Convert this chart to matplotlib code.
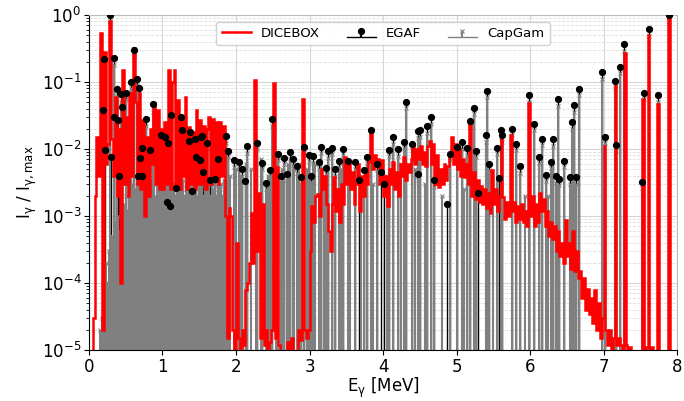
import numpy as np
import matplotlib
matplotlib.use("Agg")
import matplotlib.pyplot as plt
from matplotlib.ticker import LogLocator, NullFormatter

plt.rcParams['font.family'] = ['DejaVu Sans']
plt.rcParams['mathtext.default'] = 'regular'

# ---------------- DICEBOX: binned spectrum, 0.025 MeV bins from 0 to 8 MeV ----------------
dicebox_bin_width = 0.025
dicebox_I = [
    0, 0, 3e-5, 2e-3, 1.5e-2, 4e-3, 0.54, 2e-5, 0.28, 6e-3,            # 0.00-0.25
    1.2e-2, 0.8, 1.4e-2, 4e-3, 0.06, 2e-3, 0.02, 1e-4, 0.15, 3e-3,     # 0.25-0.50
    0.03, 2e-3, 0.068, 4e-3, 0.32, 0.05, 3e-3, 0.068, 2.5e-3, 0.027,   # 0.50-0.75
    1e-3, 0.015, 2e-3, 0.02, 0.006, 0.048, 3e-3, 0.038, 2.5e-3, 0.02,  # 0.75-1.00
    2.5e-3, 0.025, 3e-3, 0.15, 2.5e-3, 0.1, 0.15, 3e-3, 0.054, 2.5e-3, # 1.00-1.25
    0.03, 4e-3, 0.06, 2.5e-3, 0.021, 3e-3, 0.018, 2.5e-3, 0.038, 3e-3, # 1.25-1.50
    0.027, 3e-3, 0.022, 2.5e-3, 0.02, 0.03, 3e-3, 0.028, 3.5e-3, 0.025,  # 1.50-1.75
    3e-3, 0.025, 4e-3, 0.022, 1e-3, 1.5e-5, 1.3e-3, 1e-3, 2e-5, 1e-5,   # 1.75-2.00
    4e-4, 1.5e-5, 1e-5, 2e-5, 1.2e-5, 7.8e-5, 1e-4, 2e-4, 1.1e-3, 2e-4,  # 2.00-2.25
    0.107, 3e-4, 2.2e-3, 1.5e-5, 1.5e-3, 1.2e-5, 2e-5, 1e-5, 1.3e-5, 2e-5,  # 2.25-2.50
    0.096, 1.5e-5, 5.4e-3, 1.2e-5, 0, 0, 0, 0, 1.3e-5, 0,               # 2.50-2.75
    1.5e-5, 0, 0, 0, 2e-5, 1.4e-5, 0.055, 2e-5, 1.5e-5, 2e-5,           # 2.75-3.00
    3e-4, 1.4e-3, 8e-4, 2e-3, 2.1e-3, 1e-3, 5e-3, 2.5e-3, 4e-3, 1.5e-3,  # 3.00-3.25
    6e-4, 3e-4, 1.5e-3, 3.8e-3, 1.2e-3, 2.5e-3, 8e-4, 3e-3, 1.5e-3, 7.5e-3,  # 3.25-3.50
    3e-3, 6e-3, 2.5e-3, 4.5e-3, 1.5e-3, 3e-3, 6e-3, 1.2e-3, 4e-3, 2e-3,  # 3.50-3.75
    5e-3, 3e-3, 6.5e-3, 0.019, 5e-3, 8e-3, 5.5e-3, 7e-3, 3e-3, 6.8e-3,  # 3.75-4.00
    2e-3, 4e-3, 1.4e-3, 5e-3, 3e-3, 6.5e-3, 2.5e-3, 4.5e-3, 2e-3, 6e-3,  # 4.00-4.25
    4e-3, 7.5e-3, 3.5e-3, 6e-3, 4.5e-3, 7e-3, 0.012, 6e-3, 0.01, 7e-3,  # 4.25-4.50
    0.011, 6e-3, 9e-3, 5.5e-3, 0.011, 0.013, 6e-3, 0.012, 3e-3, 8e-3,   # 4.50-4.75
    2.7e-3, 5e-3, 3e-3, 6e-3, 3.5e-3, 5.5e-3, 8e-3, 0.015, 6e-3, 0.012,  # 4.75-5.00
    5e-3, 0.01, 4e-3, 7e-3, 3.8e-3, 6e-3, 3e-3, 0.024, 2e-3, 4.5e-3,    # 5.00-5.25
    1.8e-3, 3.5e-3, 1.6e-3, 2.8e-3, 1.5e-3, 2.5e-3, 1.3e-3, 2.2e-3, 1.1e-3, 4.8e-3,  # 5.25-5.50
    1.5e-3, 2.5e-3, 1.2e-3, 2e-3, 0.015, 1.9e-3, 9e-4, 1.6e-3, 1e-3, 0.016,  # 5.50-5.75
    1.2e-3, 1.6e-3, 8e-4, 1.4e-3, 9e-4, 1.5e-3, 8e-4, 1.2e-3, 7e-4, 0.048,  # 5.75-6.00
    1e-3, 2e-3, 7e-4, 1.5e-3, 8e-4, 2.2e-3, 1.2e-3, 1.8e-3, 7e-4, 1.2e-3,  # 6.00-6.25
    5e-4, 8e-4, 4.5e-4, 7e-4, 3e-4, 6e-4, 2.5e-4, 4e-4, 2e-4, 8.6e-4,   # 6.25-6.50
    2.5e-4, 4e-4, 1.6e-4, 6e-4, 1.5e-4, 3e-4, 1.2e-4, 1.5e-4, 6e-5, 1.2e-4,  # 6.50-6.75
    4e-5, 8e-5, 3.5e-5, 6e-5, 2.5e-5, 7.8e-5, 2e-5, 5e-5, 1.5e-5, 3e-5,  # 6.75-7.00
    0.011, 2e-5, 1.2e-5, 2e-5, 1e-5, 1.5e-5, 0.09, 1.2e-5, 1.5e-5, 1.2e-5,  # 7.00-7.25
    1e-5, 0.27, 1.2e-5, 1e-5, 1.1e-5, 0, 0, 0, 0, 0,                    # 7.25-7.50
    0, 0.055, 0, 1.1e-5, 0.5, 0, 1.1e-5, 0, 0, 0.047,                   # 7.50-7.75
    0, 0, 0, 0, 0, 1.0, 0, 0, 0, 0,                                     # 7.75-8.00
]

# ---------------- EGAF ----------------
egaf_E = [0.195, 0.20, 0.22, 0.28, 0.30, 0.34, 0.345, 0.385, 0.39, 0.41,
          0.44, 0.445, 0.50, 0.57, 0.61, 0.65, 0.66, 0.68, 0.69, 0.72,
          0.725, 0.78, 0.83, 0.875, 0.975, 1.03, 1.06, 1.07, 1.10, 1.12,
          1.19, 1.25, 1.26, 1.36, 1.37, 1.40, 1.44, 1.46, 1.51, 1.52,
          1.54, 1.55, 1.60, 1.65, 1.72, 1.76, 1.86, 1.895, 1.97, 2.04,
          2.08, 2.12, 2.15, 2.29, 2.36, 2.41, 2.46, 2.49, 2.57, 2.61,
          2.65, 2.69, 2.73, 2.77, 2.83, 2.89, 2.93, 2.99, 3.02, 3.05,
          3.13, 3.15, 3.23, 3.25, 3.31, 3.35, 3.40, 3.46, 3.52, 3.62,
          3.68, 3.74, 3.78, 3.84, 3.92, 3.97, 4.02, 4.08, 4.13, 4.20,
          4.28, 4.31, 4.40, 4.47, 4.48, 4.51, 4.60, 4.65, 4.70, 4.87,
          4.91, 5.00, 5.07, 5.14, 5.18, 5.24, 5.27, 5.29, 5.40, 5.41,
          5.44, 5.55, 5.58, 5.60, 5.62, 5.75, 5.81, 5.86, 5.99, 6.05,
          6.12, 6.16, 6.22, 6.29, 6.31, 6.35, 6.38, 6.40, 6.46, 6.54,
          6.57, 6.60, 6.62, 6.66, 6.98, 7.02, 7.155, 7.165, 7.23, 7.28,
          7.53, 7.55, 7.62, 7.74, 7.89]
egaf_I = [0.038, 0.22, 0.0096, 1.0, 0.0077, 0.23, 0.030, 0.078, 0.027, 0.0039,
          0.066, 0.042, 0.068, 0.10, 0.30, 0.11, 0.004, 0.08, 0.0074, 0.0104,
          0.004, 0.028, 0.0095, 0.047, 0.016, 0.015, 0.0016, 0.0125, 0.0014, 0.032,
          0.0026, 0.030, 0.019, 0.013, 0.018, 0.0024, 0.014, 0.0077, 0.0068, 0.015,
          0.0157, 0.0046, 0.0125, 0.0034, 0.0036, 0.0072, 0.0157, 0.0092, 0.0068, 0.0065,
          0.0051, 0.0033, 0.011, 0.0125, 0.0062, 0.0031, 0.0049, 0.028, 0.0085, 0.004,
          0.0074, 0.0042, 0.009, 0.0071, 0.0055, 0.0038, 0.0108, 0.0082, 0.004, 0.0078,
          0.0063, 0.0108, 0.0052, 0.0092, 0.0104, 0.005, 0.0066, 0.010, 0.0066, 0.0063,
          0.0035, 0.0048, 0.0077, 0.0192, 0.006, 0.0045, 0.003, 0.0097, 0.015, 0.0099,
          0.0128, 0.051, 0.012, 0.0043, 0.0185, 0.019, 0.022, 0.030, 0.0034, 0.0015,
          0.0085, 0.0108, 0.0127, 0.0103, 0.026, 0.041, 0.0094, 0.0022, 0.016, 0.074,
          0.006, 0.0105, 0.0037, 0.019, 0.016, 0.020, 0.0119, 0.0055, 0.063, 0.024,
          0.0077, 0.0142, 0.0041, 0.0065, 0.014, 0.0039, 0.055, 0.0036, 0.0066, 0.0038,
          0.025, 0.045, 0.0038, 0.079, 0.139, 0.0153, 0.103, 0.0116, 0.167, 0.365,
          0.0032, 0.069, 0.61, 0.063, 1.0]

# ---------------- CapGam: strong lines ----------------
capgam_E = [0.20, 0.28, 0.34, 0.385, 0.44, 0.50, 0.57, 0.61, 0.65, 0.68,
            0.72, 0.78, 0.83, 0.875, 0.975, 1.03, 1.07, 1.12, 1.25, 1.26,
            1.36, 1.37, 1.44, 1.46, 1.52, 1.54, 1.60, 1.77, 1.86, 1.895,
            1.97, 2.04, 2.08, 2.15, 2.29, 2.36, 2.41, 2.46, 2.49, 2.57,
            2.61, 2.65, 2.69, 2.73, 2.77, 2.83, 2.89, 2.93, 2.99, 3.02,
            3.05, 3.13, 3.15, 3.23, 3.25, 3.31, 3.35, 3.40, 3.46, 3.52,
            3.62, 3.74, 3.78, 3.84, 3.92, 4.08, 4.13, 4.20, 4.28, 4.31,
            4.40, 4.47, 4.48, 4.51, 4.60, 4.65, 4.70, 4.91, 5.00, 5.07,
            5.14, 5.18, 5.24, 5.27, 5.40, 5.41, 5.44, 5.55, 5.60, 5.62,
            5.75, 5.81, 5.86, 5.99, 6.05, 6.12, 6.16, 6.22, 6.29, 6.31,
            6.35, 6.38, 6.40, 6.46, 6.54, 6.57, 6.60, 6.62, 6.66, 6.98,
            7.02, 7.155, 7.165, 7.23, 7.28, 7.53, 7.55, 7.62, 7.74, 7.89]
capgam_I = [0.17, 0.8, 0.18, 0.062, 0.05, 0.055, 0.08, 0.24, 0.09, 0.065,
            0.008, 0.022, 0.0075, 0.036, 0.013, 0.012, 0.010, 0.026, 0.024, 0.015,
            0.0105, 0.014, 0.011, 0.006, 0.012, 0.0125, 0.010, 0.0057, 0.0125, 0.0075,
            0.0054, 0.0052, 0.004, 0.0088, 0.010, 0.005, 0.0025, 0.0039, 0.022, 0.0068,
            0.0032, 0.0059, 0.0034, 0.0072, 0.0057, 0.0044, 0.003, 0.0086, 0.0066, 0.0032,
            0.0062, 0.005, 0.0086, 0.0042, 0.0074, 0.0083, 0.004, 0.0053, 0.008, 0.0053,
            0.005, 0.0038, 0.0062, 0.0154, 0.0048, 0.0078, 0.012, 0.0079, 0.0102, 0.041,
            0.0096, 0.0034, 0.0148, 0.015, 0.0176, 0.024, 0.0027, 0.0068, 0.0086, 0.010,
            0.0082, 0.021, 0.033, 0.0075, 0.0128, 0.059, 0.0048, 0.0084, 0.015, 0.0128,
            0.016, 0.0095, 0.0044, 0.05, 0.019, 0.0062, 0.0114, 0.0033, 0.0052, 0.0112,
            0.0031, 0.044, 0.0029, 0.0053, 0.003, 0.02, 0.036, 0.003, 0.063, 0.11,
            0.0122, 0.082, 0.0093, 0.134, 0.29, 0.0026, 0.055, 0.49, 0.05, 0.8]

# ---------------- CapGam: weak lines ----------------
capgam_weak_E = [0.155, 0.175, 0.19, 0.215, 0.235, 0.255, 0.27, 0.295, 0.31, 0.33,
                 0.355, 0.37, 0.39, 0.415, 0.43, 0.455, 0.475, 0.49,
                 0.51, 0.53, 0.545, 0.565, 0.585, 0.60, 0.62, 0.64, 0.66, 0.675,
                 0.695, 0.715, 0.735, 0.75, 0.765, 0.785, 0.805, 0.82, 0.84, 0.86,
                 0.885, 0.90, 0.92, 0.94, 0.955, 0.985,
                 1.005, 1.02, 1.045, 1.06, 1.085, 1.10, 1.12, 1.14, 1.16, 1.18,
                 1.20, 1.22, 1.24, 1.265, 1.28, 1.30, 1.32, 1.34, 1.355, 1.38,
                 1.40, 1.42, 1.455, 1.475, 1.495, 1.52, 1.535, 1.56, 1.58, 1.61,
                 1.63, 1.655, 1.675, 1.695, 1.715, 1.74, 1.76, 1.785, 1.80, 1.82,
                 1.84, 1.87,
                 1.92, 2.00, 2.06, 2.13, 2.21, 2.27, 2.34, 2.44, 2.54, 2.63,
                 2.71, 2.79, 2.86, 2.96, 3.07,
                 3.20, 3.43, 3.55, 3.70, 3.87, 4.05, 4.25, 4.43, 4.57, 4.80,
                 5.10, 5.50, 5.93, 6.25]
capgam_weak_I = [2e-5, 3e-5, 1e-4, 5e-5, 2e-4, 1e-4, 3e-4, 2e-4, 5e-4, 3e-4,
                 8e-4, 4e-4, 1e-3, 6e-4, 1.2e-3, 8e-4, 1.5e-3, 1e-3,
                 2e-3, 1.2e-3, 2.5e-3, 1.5e-3, 3e-3, 1.8e-3, 2.5e-3, 1.5e-3, 3e-3, 2e-3,
                 2.8e-3, 1.8e-3, 3e-3, 2e-3, 3.5e-3, 2.2e-3, 3e-3, 2e-3, 3.5e-3, 2.5e-3,
                 3e-3, 2e-3, 3.5e-3, 2.5e-3, 3e-3, 2.2e-3,
                 3e-3, 2e-3, 3.5e-3, 2.5e-3, 3e-3, 2e-3, 3.5e-3, 2.5e-3, 3e-3, 2e-3,
                 3.5e-3, 2.2e-3, 3e-3, 2.5e-3, 3.5e-3, 2e-3, 3e-3, 2.5e-3, 3.5e-3, 2e-3,
                 3e-3, 2.5e-3, 3.5e-3, 2e-3, 3e-3, 2.5e-3, 3.5e-3, 2e-3, 3e-3, 2.5e-3,
                 3.5e-3, 2e-3, 3e-3, 2.5e-3, 3e-3, 2e-3, 3e-3, 2.5e-3, 3e-3, 2e-3,
                 3.5e-3, 3e-3,
                 4e-3, 5e-3, 4e-3, 6e-3, 5e-3, 6e-3, 7e-3, 4e-3, 4e-3, 5e-3,
                 6e-3, 5e-3, 6e-3, 5e-3, 6e-3,
                 3e-3, 5e-3, 4e-3, 3e-3, 3e-3, 4e-3, 6e-3, 5e-3, 3e-3, 2e-3,
                 2.5e-3, 2e-3, 2e-3, 2e-3]

# ---------------- plotting ----------------
fig = plt.figure(figsize=(6.84, 4.01), dpi=100)
ax = fig.add_axes([0.1301, 0.1272, 0.8597, 0.8354])
ax.set_yscale('log')

floor = 1e-8
edges = np.arange(len(dicebox_I) + 1) * dicebox_bin_width
vals = np.maximum(np.array(dicebox_I, dtype=float), floor)
ax.stairs(vals, edges, color='red', lw=1.8, baseline=None, zorder=2.5, label='DICEBOX')

eg = ax.stem(egaf_E, egaf_I, linefmt='k-', markerfmt='ko', basefmt='k-',
             bottom=floor, label='EGAF')
eg.markerline.set_markersize(4.2)
eg.markerline.set_zorder(3)
eg.stemlines.set_linewidth(1.0)
eg.stemlines.set_zorder(1.5)
eg.baseline.set_linewidth(1.0)

cg_E = list(capgam_E) + list(capgam_weak_E)
cg_I = list(capgam_I) + list(capgam_weak_I)
cg = ax.stem(cg_E, cg_I, linefmt='-', markerfmt='x', basefmt='-',
             bottom=floor, label='CapGam')
cg.stemlines.set_color('gray')
cg.stemlines.set_linewidth(1.5)
cg.stemlines.set_zorder(2)
cg.markerline.set_color('gray')
cg.markerline.set_markersize(3.5)
cg.markerline.set_markeredgewidth(0.8)
cg.markerline.set_zorder(2.1)
cg.baseline.set_color('gray')
cg.baseline.set_linewidth(1.0)

ax.set_xlim(0, 8)
ax.set_ylim(1e-5, 1)
ax.yaxis.set_major_locator(LogLocator(base=10, numticks=10))
ax.yaxis.set_minor_locator(LogLocator(base=10, subs=np.arange(2, 10), numticks=20))
ax.yaxis.set_minor_formatter(NullFormatter())

ax.grid(which='major', color='#d5d5d5', lw=0.8, zorder=0)
ax.grid(which='minor', axis='y', color='#dddddd', lw=0.6, ls='--', zorder=0)
ax.set_axisbelow(True)

for s in ['top', 'right']:
    ax.spines[s].set_color('#bbbbbb')
for s in ['left', 'bottom']:
    ax.spines[s].set_color('black')

ax.tick_params(axis='both', which='major', labelsize=12, length=3.5, width=0.8, pad=2)
ax.tick_params(axis='y', which='minor', length=2, width=0.6)

ax.set_xlabel(r'$E_\gamma$ [MeV]', fontsize=12, labelpad=0)
ax.set_ylabel(r'$I_\gamma$ / $I_{\gamma,max}$', fontsize=12, labelpad=2)

leg = ax.legend(loc='upper center', ncol=3, fontsize=9.5, handlelength=2.2,
                columnspacing=2.0, bbox_to_anchor=(0.5, 1.0), framealpha=0.9)
leg.set_zorder(10)

fig.savefig('out.png', dpi=100)
